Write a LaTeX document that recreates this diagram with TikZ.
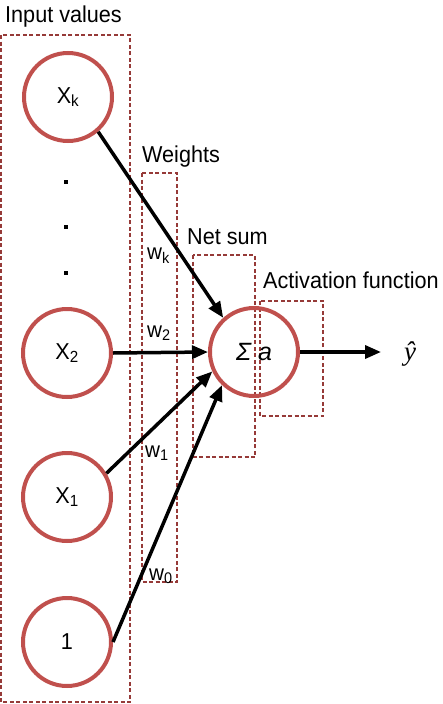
\documentclass[tikz,border=0pt]{standalone}
\usepackage{fontspec}
\setmainfont{Liberation Sans}
\newfontfamily\serifit{Liberation Serif}
\usetikzlibrary{arrows.meta}
\definecolor{ringred}{RGB}{192,80,77}
\definecolor{boxred}{RGB}{150,58,56}
\newcommand{\lbl}[1]{\scalebox{0.94}[1]{#1}}
\begin{document}
\begin{tikzpicture}[x=1pt,y=-1pt,
  groupbox/.style={draw=boxred,line width=1.3pt,dash pattern=on 4pt off 2.5pt},
  neuron/.style={circle,draw=ringred,line width=4pt,minimum size=88pt,inner sep=0pt,
    font=\fontsize{23}{26}\selectfont},
  title/.style={anchor=base west,inner sep=0pt,font=\fontsize{23}{26}\selectfont},
  wlabel/.style={anchor=base west,inner sep=0pt,font=\fontsize{22}{26}\selectfont},
  conn/.style={line width=3.5pt,-{Triangle[length=16pt,width=13pt]}},
  dot/.style={fill=black,minimum size=4pt,inner sep=0pt}]
\useasboundingbox (0,0) rectangle (442,704);
% group boxes
\draw[groupbox] (1,35) rectangle (130,702);
\draw[groupbox] (142,173) rectangle (177,582);
\draw[groupbox] (193,255) rectangle (255,457);
\draw[groupbox] (260,301) rectangle (323,416);
% titles
\node[title] (tin) at (5,22) {\lbl{Input values}};
\node[title] (tw) at (142,162) {\lbl{Weights}};
\node[title] (tn) at (187,244) {\lbl{Net sum}};
\node[title] (ta) at (263,288) {\lbl{Activation function}};
% neurons
\node[neuron] (xk) at (68,97) {\lbl{X\textsubscript{k}}};
\node[neuron] (x2) at (67,353) {\lbl{X\textsubscript{2}}};
\node[neuron] (x1) at (67,497) {\lbl{X\textsubscript{1}}};
\node[neuron] (one) at (67,642) {\lbl{1}};
\node[neuron,font=\fontsize{25}{26}\selectfont\itshape] (sum) at (254,352) {Σ\hspace{7pt}a};
% dots
\node[dot] (d1) at (66,182) {};
\node[dot] (d2) at (66,227) {};
\node[dot] (d3) at (66,273) {};
% weight labels
\node[wlabel] (wk) at (147,259) {\lbl{w\textsubscript{k}}};
\node[wlabel] (w2) at (147,337) {\lbl{w\textsubscript{2}}};
\node[wlabel] (w1) at (145,457) {\lbl{w\textsubscript{1}}};
\node[wlabel] (w0) at (149,580) {\lbl{w\textsubscript{0}}};
% output
\coordinate (out) at (381,352);
\node[inner sep=0pt,font=\fontsize{27}{30}\serifit\itshape] (yhat) at (410,354) {ŷ};
% connectors
\draw[conn] (xk.-49) -- (sum.132);
\draw[conn] (x2.east) -- (sum.west);
\draw[conn] (x1.31) -- (sum.205);
\draw[conn] (one.east) -- (sum.226);
\draw[conn] (sum.east) -- (out);
\end{tikzpicture}
\end{document}
